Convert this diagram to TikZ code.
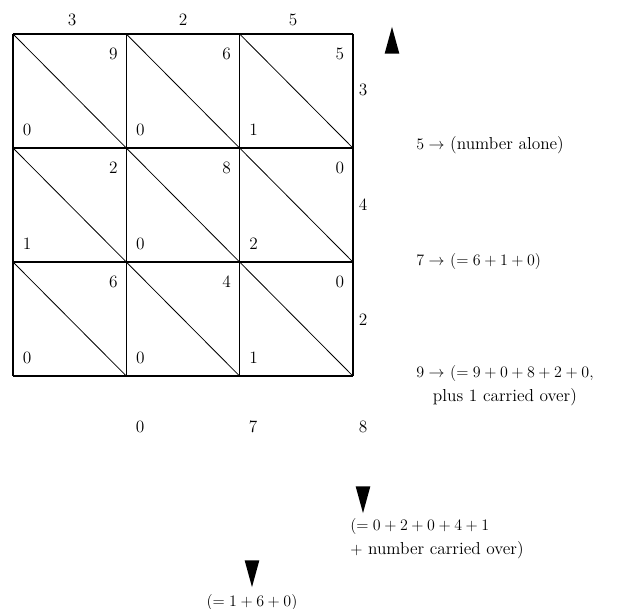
\documentclass[tikz,border=0pt]{standalone}
\usepackage{tikz}
\usepackage{amsmath,amssymb}
\usetikzlibrary{
  shapes.geometric,
  positioning
}

\begin{document}
\begin{tikzpicture}[
    x=0.75pt, y=-0.75pt,
    every node/.style={font=\fontsize{13}{18}\selectfont},
    gridline/.style={line width=1.1pt},
    diagline/.style={line width=0.6pt},
    digit/.style={inner sep=0pt},
    note/.style={anchor=west, inner sep=0pt},
    tip/.style={
      isosceles triangle, isosceles triangle stretches,
      minimum width=11pt, minimum height=20pt,
      fill=black, inner sep=0pt
    },
  ]
  \useasboundingbox (0,0) rectangle (619,609);

  % --- Lattice ---
  \def\gx{13}
  \def\gy{34}
  \def\cw{113.3}
  \def\ch{114}
  \foreach \c in {0,...,3}
    \draw[gridline] ({\gx+\c*\cw},\gy) -- ++(0,{3*\ch});
  \foreach \r in {0,...,3}
    \draw[gridline] (\gx,{\gy+\r*\ch}) -- ++({3*\cw},0);
  \foreach \r in {0,1,2}
    \foreach \c in {0,1,2}
      \draw[diagline] ({\gx+\c*\cw},{\gy+\r*\ch}) -- ++(\cw,\ch);

  % --- Products in the cells ---
  \foreach \r/\c/\tr/\bl in {0/0/9/0, 0/1/6/0, 0/2/5/1,
                             1/0/2/1, 1/1/8/0, 1/2/0/2,
                             2/0/6/0, 2/1/4/0, 2/2/0/1} {
    \node[digit] (tr\r\c) at ({\gx+(\c+1)*\cw-13},{\gy+\r*\ch+20}) {\tr};
    \node[digit] (bl\r\c) at ({\gx+\c*\cw+14},{\gy+(\r+1)*\ch-18}) {\bl};
  }

  % --- Factors ---
  \foreach \x/\d [count=\i] in {72/3, 183/2, 293/5}
    \node[digit] (top\i) at (\x,20) {\d};
  \foreach \y/\d [count=\i] in {90/3, 205/4, 320/2}
    \node[digit] (side\i) at (363,\y) {\d};

  % --- Result digits ---
  \foreach \x/\d [count=\i] in {140/0, 253/7, 363/8}
    \node[digit] (sum\i) at (\x,427) {\d};

  % --- Arrowheads ---
  \node[tip, rotate=90] (up) at (392,48) {};
  \node[tip, rotate=-90] (down8) at (363,492) {};
  \node[tip, rotate=-90] (down7) at (252,566) {};

  % --- Explanations ---
  \node[note] (note5) at (416,145) {$5 \rightarrow$\ (number alone)};
  \node[note] (note7) at (416,262) {$7 \rightarrow$\ $(= 6 + 1 + 0)$};
  \node[note, align=center] (note9) at (416,386)
    {$9 \rightarrow$\ $(= 9 + 0 + 8 + 2 + 0,$\\plus 1 carried over)};

  \node[inner sep=0pt, anchor=north west, align=left] (carry8) at (350,518)
    {$(= 0 + 2 + 0 + 4 + 1$\\$+$ number carried over)};
  \node[inner sep=0pt, below=5pt of down7.apex] (carry7)
    {$(= 1 + 6 + 0)$};

\end{tikzpicture}
\end{document}
